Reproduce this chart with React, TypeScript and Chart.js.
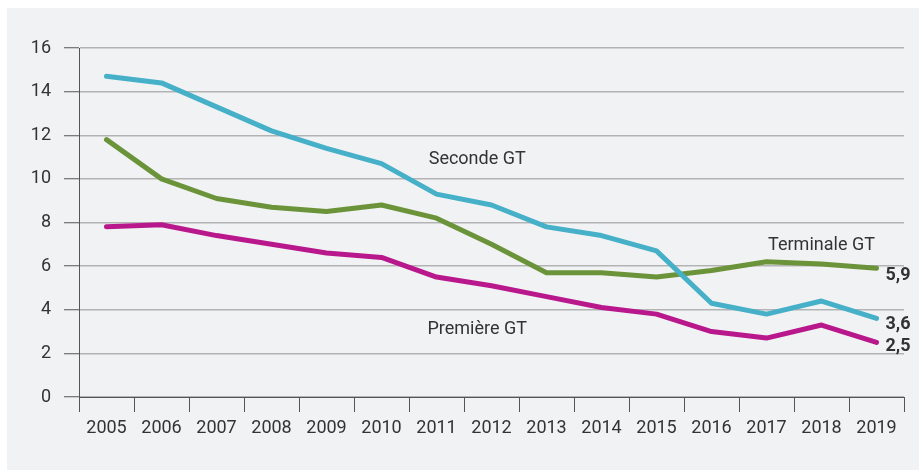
import React, { useEffect, useRef } from "react";
import { Chart, registerables } from "chart.js";

Chart.register(...registerables);

const years = ["2005", "2006", "2007", "2008", "2009", "2010", "2011", "2012", "2013", "2014", "2015", "2016", "2017", "2018", "2019"];
const seconde = [14.7, 14.4, 13.3, 12.2, 11.4, 10.7, 9.3, 8.8, 7.8, 7.4, 6.7, 4.3, 3.8, 4.4, 3.6];
const terminale = [11.8, 10.0, 9.1, 8.7, 8.5, 8.8, 8.2, 7.0, 5.7, 5.7, 5.5, 5.8, 6.2, 6.1, 5.9];
const premiere = [7.8, 7.9, 7.4, 7.0, 6.6, 6.4, 5.5, 5.1, 4.6, 4.1, 3.8, 3.0, 2.7, 3.3, 2.5];
const seriesNames = ["Seconde GT", "Terminale GT", "Première GT"];
const endLabels = ["3,6", "5,9", "2,5"];

const FONT = "Roboto, 'Noto Sans', sans-serif";
const TEXT = "#333333";
const FS = 18;

const bgPlugin = {
  id: "panelBg",
  beforeDraw(chart: any) {
    const ctx = chart.ctx;
    ctx.save();
    ctx.fillStyle = "#f1f2f4";
    ctx.fillRect(7, 8, chart.width - 7, 462);
    ctx.restore();
  },
};

const labelPlugin = {
  id: "seriesLabels",
  afterDatasetsDraw(chart: any) {
    const ctx = chart.ctx;
    const x = chart.scales.x;
    const y = chart.scales.y;
    ctx.save();
    ctx.fillStyle = TEXT;
    ctx.textBaseline = "middle";
    ctx.font = `${FS}px ${FONT}`;
    ctx.textAlign = "center";
    const step = x.getPixelForValue(1) - x.getPixelForValue(0);
    const x0 = x.getPixelForValue(0);
    ctx.fillText(seriesNames[0], x0 + step * 6.74, y.getPixelForValue(10.9));
    ctx.fillText(seriesNames[2], x0 + step * 6.74, y.getPixelForValue(3.1));
    ctx.fillText(seriesNames[1], x0 + step * 13.0, y.getPixelForValue(6.93));
    ctx.font = `bold ${FS}px ${FONT}`;
    ctx.textAlign = "left";
    const last = years.length - 1;
    const lx = x.getPixelForValue(last) + 9;
    ctx.fillText(endLabels[1], lx, y.getPixelForValue(terminale[last]) + 7);
    ctx.fillText(endLabels[0], lx, y.getPixelForValue(seconde[last]) + 6);
    ctx.fillText(endLabels[2], lx, y.getPixelForValue(premiere[last]) + 4);
    ctx.restore();
  },
};

export default function App() {
  const ref = useRef<HTMLCanvasElement | null>(null);
  useEffect(() => {
    if (!ref.current) return;
    const line = (label: string, data: number[], color: string) => ({
      label,
      data,
      borderColor: color,
      backgroundColor: color,
      borderWidth: 5,
      borderCapStyle: "round" as const,
      borderJoinStyle: "round" as const,
      pointRadius: 0,
      tension: 0,
      fill: false,
    });
    const chart = new Chart(ref.current, {
      type: "line",
      data: {
        labels: years,
        datasets: [
          line(seriesNames[0], seconde, "#45b0c8"),
          line(seriesNames[1], terminale, "#6b9339"),
          line(seriesNames[2], premiere, "#b9188c"),
        ],
      },
      options: {
        animation: false,
        responsive: false,
        devicePixelRatio: 1,
        layout: { padding: { top: 48, right: 15, bottom: 0, left: 0 } },
        plugins: { legend: { display: false }, tooltip: { enabled: false } },
        scales: {
          x: {
            type: "category",
            offset: true,
            afterFit: (s: any) => {
              s.height = 75;
            },
            grid: {
              offset: true,
              drawOnChartArea: false,
              drawTicks: true,
              tickLength: 15,
              color: "#555555",
              lineWidth: 1,
            },
            border: { display: true, color: "#555555", width: 1 },
            ticks: {
              padding: 6,
              color: TEXT,
              font: { family: FONT, size: FS },
              maxRotation: 0,
              autoSkip: false,
            },
          },
          y: {
            min: 0,
            max: 16,
            afterFit: (s: any) => {
              s.width = 79;
            },
            grid: {
              color: "#b3b3b3",
              lineWidth: 1.5,
              tickLength: 15,
              tickColor: "#555555",
              tickWidth: 1,
            },
            border: { display: true, color: "#555555", width: 1 },
            ticks: {
              stepSize: 2,
              padding: 13,
              color: TEXT,
              font: { family: FONT, size: FS },
            },
          },
        },
      },
      plugins: [bgPlugin, labelPlugin],
    });
    return () => chart.destroy();
  }, []);
  return (
    <div style={{ position: "fixed", left: 0, top: 0, width: 919, height: 472, background: "#ffffff" }}>
      <canvas ref={ref} width={919} height={472} style={{ display: "block", width: 919, height: 472 }} />
    </div>
  );
}
